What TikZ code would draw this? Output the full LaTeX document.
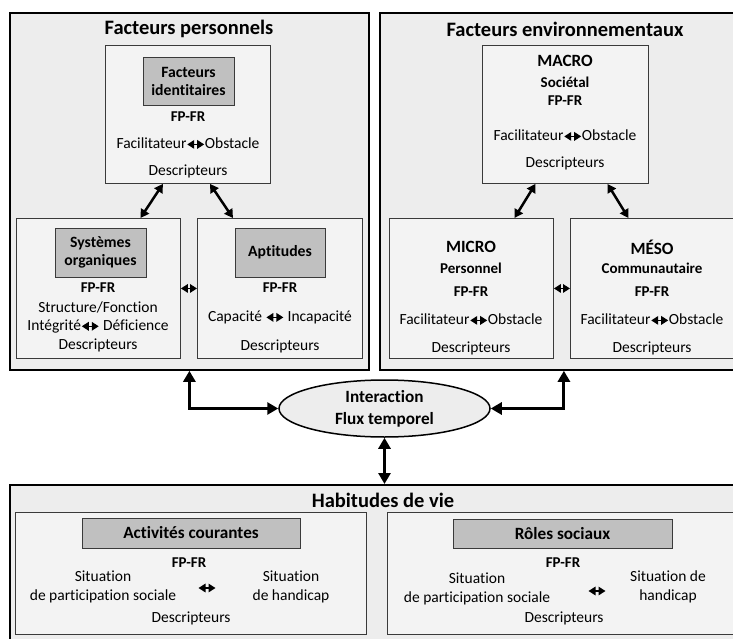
\documentclass[tikz,border=0pt]{standalone}
\usepackage{fontspec}
\setmainfont{Carlito}[Ligatures={NoCommon,NoRequired},Contextuals=NoAlternate,RawFeature={-calt;-liga}]
\usetikzlibrary{arrows.meta,shapes.geometric,positioning}

\definecolor{outerbg}{HTML}{EDEDED}
\definecolor{innerbg}{HTML}{F3F3F3}
\definecolor{greybox}{HTML}{C0C0C0}
\definecolor{boxline}{HTML}{3A3A3A}

\newcommand{\ttlfont}{\bfseries\fontsize{20.5}{24}\selectfont}
\newcommand{\hdfont}{\bfseries\fontsize{17.2}{20}\selectfont}
\newcommand{\lblfont}{\bfseries\fontsize{15.7}{18}\selectfont}
\newcommand{\sbfont}{\bfseries\fontsize{15}{18}\selectfont}
\newcommand{\bdfont}{\fontsize{15.5}{18.8}\selectfont}
% small double arrow inside the text lines
\newcommand{\dbl}{\tikz[baseline=-0.5ex]\draw[line width=1.5pt,
  {Triangle[length=7pt,width=8.5pt]}-{Triangle[length=7pt,width=8.5pt]}]
  (0pt,0pt) -- (17pt,0pt);}

\begin{document}
\begin{tikzpicture}[x=1pt,y=-1pt,
  outerbox/.style={draw=black, line width=1.8pt, fill=outerbg,
    inner sep=0pt, anchor=north west},
  innerbox/.style={draw=boxline, line width=0.9pt, fill=innerbg,
    inner sep=0pt, anchor=north west},
  graybox/.style={draw=boxline, line width=0.9pt, fill=greybox,
    inner sep=0pt, align=center, font=\lblfont},
  ttl/.style={inner sep=0pt, font=\ttlfont},
  hd/.style={inner sep=0pt, font=\hdfont},
  sub/.style={inner sep=0pt, font=\sbfont},
  txt/.style={inner sep=0pt, align=center, font=\bdfont},
  bigarr/.style={line width=3pt,
    {Triangle[length=11pt,width=12pt]}-{Triangle[length=11pt,width=12pt]}},
  midarr/.style={line width=2.5pt,
    {Triangle[length=8.5pt,width=9.5pt]}-{Triangle[length=8.5pt,width=9.5pt]}},
  smallarr/.style={line width=1.5pt,
    {Triangle[length=7pt,width=8.5pt]}-{Triangle[length=7pt,width=8.5pt]}}]
  \useasboundingbox (0,0) rectangle (733,639);
  \fill[white] (0,0) rectangle (733,639);
  \clip (0,0) rectangle (733,639);

  % Facteurs personnels
  \node[outerbox, minimum width=359pt, minimum height=357pt] (pers) at (9,12) {};
  \node[ttl] (tpers) at (189,29) {Facteurs personnels};
  \node[innerbox, minimum width=165pt, minimum height=138pt] (ident) at (105,45) {};
  \node[graybox, minimum width=91pt, minimum height=48pt] (identg) at (188.5,81) {Facteurs\\identitaires};
  \node[sub] (fp1) at (188,117) {FP-FR};
  \node[txt] (fo1) at (188,143) {Facilitateur\dbl Obstacle};
  \node[txt] (d1) at (188,171) {Descripteurs};

  \node[innerbox, minimum width=164pt, minimum height=140pt] (sys) at (16,218) {};
  \node[graybox, minimum width=91pt, minimum height=49pt] (sysg) at (100.5,252.5) {Systèmes\\organiques};
  \node[sub] (fp2) at (98,288) {FP-FR};
  \node[txt] (sf) at (98,307) {Structure/Fonction};
  \node[txt] (intd) at (98,326) {Intégrité\dbl\ Déficience};
  \node[txt] (d2) at (98,345) {Descripteurs};

  \node[innerbox, minimum width=165pt, minimum height=140pt] (apt) at (197,218) {};
  \node[graybox, minimum width=90pt, minimum height=49pt] (aptg) at (280,252.5) {Aptitudes};
  \node[sub] (fp3) at (280,288) {FP-FR};
  \node[txt] (ci) at (280,317) {Capacité \dbl\ Incapacité};
  \node[txt] (d3) at (280,346) {Descripteurs};

  \draw[midarr] ([xshift=-25pt]ident.south) -- ([xshift=42pt]sys.north);
  \draw[midarr] ([xshift=22pt]ident.south) -- ([xshift=-47pt]apt.north);
  \draw[smallarr] (sys.east) -- (apt.west);

  % Facteurs environnementaux
  \node[outerbox, minimum width=368pt, minimum height=357pt] (env) at (379,12) {};
  \node[ttl] (tenv) at (565,29) {Facteurs environnementaux};
  \node[innerbox, minimum width=166pt, minimum height=138pt] (macro) at (482,45) {};
  \node[hd] (mac) at (565,61) {MACRO};
  \node[sub] (soc) at (565,82) {Sociétal};
  \node[sub] (fp4) at (565,101) {FP-FR};
  \node[txt] (fo4) at (565,135) {Facilitateur\dbl Obstacle};
  \node[txt] (d4) at (565,163) {Descripteurs};

  \node[innerbox, minimum width=164pt, minimum height=140pt] (micro) at (389,218) {};
  \node[hd] (mic) at (471,247) {MICRO};
  \node[sub] (prs) at (471,268) {Personnel};
  \node[sub] (fp5) at (471,292) {FP-FR};
  \node[txt] (fo5) at (471,319) {Facilitateur\dbl Obstacle};
  \node[txt] (d5) at (471,348) {Descripteurs};

  \node[innerbox, minimum width=170pt, minimum height=140pt] (meso) at (570,218) {};
  \node[hd] (mes) at (652,247) {MÉSO};
  \node[sub] (com) at (652,268) {Communautaire};
  \node[sub] (fp6) at (652,292) {FP-FR};
  \node[txt] (fo6) at (652,319) {Facilitateur\dbl Obstacle};
  \node[txt] (d6) at (652,348) {Descripteurs};

  \draw[midarr] ([xshift=-30pt]macro.south) -- ([xshift=43pt]micro.north);
  \draw[midarr] ([xshift=42pt]macro.south) -- ([xshift=-27pt]meso.north);
  \draw[smallarr] (micro.east) -- (meso.west);

  % Habitudes de vie
  \node[outerbox, minimum width=750pt, minimum height=160pt] (hab) at (9,484) {};
  \node[ttl] (thab) at (383,500) {Habitudes de vie};

  \node[innerbox, minimum width=351pt, minimum height=122pt] (act) at (15,512) {};
  \node[graybox, font=\hdfont, minimum width=218pt, minimum height=30pt] (actg) at (191,533) {Activités courantes};
  \node[sub] (fp7) at (189,563) {FP-FR};
  \node[txt] (sp1) at (103,587) {Situation\\de participation sociale};
  \node[txt] (sh1) at (291,587) {Situation\\de handicap};
  \coordinate (a7) at (207,588);
  \draw[smallarr] ([xshift=-8.5pt]a7) -- ([xshift=8.5pt]a7);
  \node[txt] (d7) at (191,618) {Descripteurs};

  \node[innerbox, minimum width=351pt, minimum height=122pt] (rol) at (387,512) {};
  \node[graybox, font=\hdfont, minimum width=219pt, minimum height=29pt] (rolg) at (562.5,533.5) {Rôles sociaux};
  \node[sub] (fp8) at (563,563) {FP-FR};
  \node[txt] (sp2) at (477,589) {Situation\\de participation sociale};
  \node[txt] (sh2) at (668,587) {Situation de\\handicap};
  \coordinate (a8) at (597,591);
  \draw[smallarr] ([xshift=-8.5pt]a8) -- ([xshift=8.5pt]a8);
  \node[txt] (d8) at (564,618) {Descripteurs};

  % Interaction
  \node[ellipse, draw, line width=1.5pt, fill=outerbg, inner sep=0pt,
    minimum width=211pt, minimum height=57pt, align=center, font=\hdfont]
    (ell) at (384.5,408.5) {Interaction\\[2pt]Flux temporel};
  \draw[bigarr] (pers.south) |- (ell.west);
  \draw[bigarr] (env.south) |- (ell.east);
  \draw[bigarr] (ell.south) -- (ell.south |- hab.north);
\end{tikzpicture}
\end{document}
